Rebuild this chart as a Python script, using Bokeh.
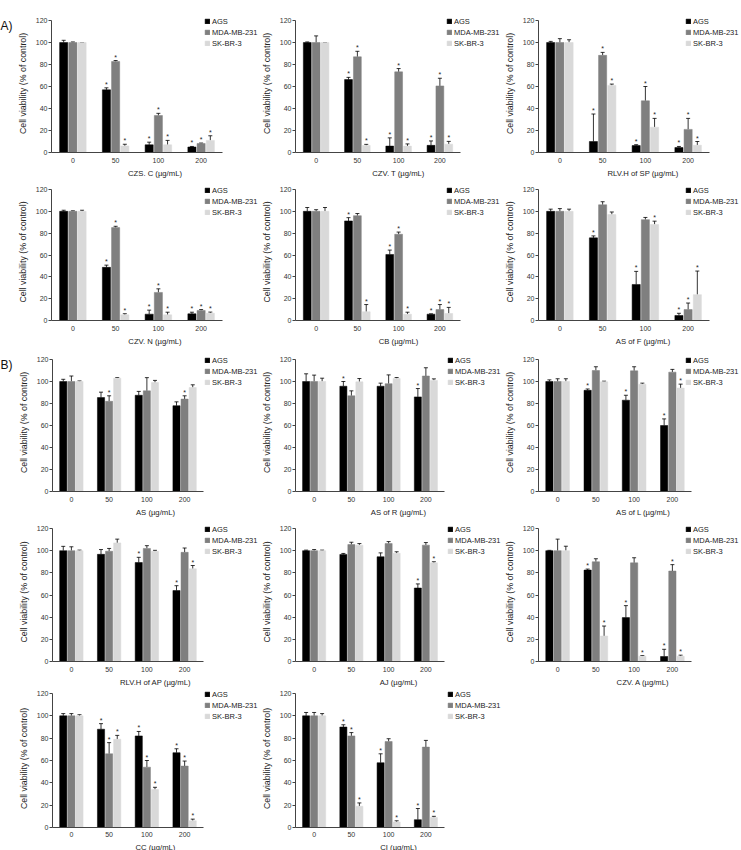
from bokeh.plotting import figure
from bokeh.layouts import column, row
from bokeh.models import (ColumnDataSource, Range1d, FixedTicker,
                          Whisker, TeeHead, Legend, LegendItem)
from bokeh.core.properties import value
from bokeh.embed import file_html
from bokeh.resources import INLINE

doses = ["0", "50", "100", "200"]
cell_lines = ["AGS", "MDA-MB-231", "SK-BR-3"]
bar_colors = ["#000000", "#7f7f7f", "#d9d9d9"]
y_ticks = [0, 20, 40, 60, 80, 100, 120]

# Mean viability (% of control), SD and significance ("*") per cell line:
# rows are AGS, MDA-MB-231, SK-BR-3; columns follow `doses`.
czs_c_label = "CZS. C (µg/mL)"
czs_c_mean = [[100, 57, 7, 5], [100, 82.7, 33.6, 8.2], [100, 6, 7, 11]]
czs_c_sd = [[2, 1.8, 2.4, 0.5], [0.5, 0.9, 2, 0.4], [0, 1.5, 4, 4.2]]
czs_c_sig = ["-***", "-***", "-***"]

czv_t_label = "CZV. T (µg/mL)"
czv_t_mean = [[100, 66.3, 5.8, 6.5], [100, 87, 73.3, 60.5], [100, 6.4, 5.8, 7.6]]
czv_t_sd = [[0.5, 2, 7.5, 4], [6, 5, 3, 7], [0, 1, 2, 2.5]]
czv_t_sig = ["-***", "-***", "-***"]

rlvh_sp_label = "RLV.H of SP (µg/mL)"
rlvh_sp_mean = [[100, 10, 6.3, 4.5], [100, 88.3, 47, 21], [100, 61, 23, 6.6]]
rlvh_sp_sd = [[1, 25, 0.8, 1], [3.5, 2.7, 13, 10], [2.5, 1.2, 8, 3.4]]
rlvh_sp_sig = ["-***", "-***", "-***"]

czv_n_label = "CZV. N (µg/mL)"
czv_n_mean = [[100, 48.7, 5.8, 6.1], [100, 85.1, 25.7, 9.2], [100, 5.2, 5.2, 6.7]]
czv_n_sd = [[1, 2, 3.7, 1.5], [0.5, 1.2, 3.3, 0.8], [1, 1, 2.4, 1]]
czv_n_sig = ["-***", "-***", "-***"]

cb_label = "CB (µg/mL)"
cb_mean = [[100, 91.2, 60.5, 5.8], [100, 96, 79, 10], [100, 8, 5.8, 6.4]]
cb_sd = [[3.5, 3, 4, 0.3], [1.5, 2, 2, 4.6], [3.5, 6.6, 1.8, 5.6]]
cb_sig = ["-***", "--**", "-***"]

as_f_label = "AS of F (µg/mL)"
as_f_mean = [[100, 75.7, 33, 4.6], [100, 106, 92.4, 10], [100, 97, 88, 23.7]]
as_f_sd = [[2, 1.8, 12, 2], [2.5, 2.8, 2, 6], [2, 2.4, 3, 21.6]]
as_f_sig = ["-***", "---*", "--**"]

as_label = "AS (µg/mL)"
as_mean = [[100, 85.4, 87.5, 78], [100, 82, 91.5, 84], [100, 103, 99, 94.5]]
as_sd = [[2, 4.9, 3.5, 3.5], [5, 5, 12, 3], [0.5, 0.6, 2, 2.5]]
as_sig = ["----", "-*-*", "----"]

as_r_label = "AS of R (µg/mL)"
as_r_mean = [[100, 95.7, 95.7, 86], [100, 87, 98, 105], [100, 99.7, 102.7, 101]]
as_r_sd = [[7, 4.3, 2.8, 7.6], [5.8, 4.5, 8, 7.5], [3, 3, 0.9, 1.4]]
as_r_sig = ["-*-*", "----", "----"]

as_l_label = "AS of L (µg/mL)"
as_l_mean = [[100, 92, 83, 60], [100, 110, 109.7, 108.5], [100, 99.7, 97.5, 94]]
as_l_sd = [[1.5, 1.2, 4.5, 6], [2.5, 3.4, 3.7, 2.5], [2.5, 0.6, 1, 3.6]]
as_l_sig = ["-***", "----", "---*"]

rlvh_ap_label = "RLV.H of AP (µg/mL)"
rlvh_ap_mean = [[100, 96.7, 89.3, 64], [100, 99.5, 102, 98.5], [100, 107, 99.4, 83.6]]
rlvh_ap_sd = [[3.9, 4.3, 4.7, 4.4], [3.5, 2.5, 2.5, 3.9], [0.5, 3.4, 0.9, 3]]
rlvh_ap_sig = ["--**", "----", "---*"]

aj_label = "AJ (µg/mL)"
aj_mean = [[100, 96.6, 94.5, 66.3], [100, 105.5, 106.4, 105], [100, 105, 97.6, 89]]
aj_sd = [[0.5, 0.9, 3.5, 3.7], [1, 2.1, 1.8, 2.3], [0.5, 1.4, 1.4, 1]]
aj_sig = ["---*", "----", "---*"]

czv_a_label = "CZV. A (µg/mL)"
czv_a_mean = [[100, 82.5, 39.6, 4.5], [100, 90, 89, 81.6], [100, 23, 4.8, 4.8]]
czv_a_sd = [[0.3, 0.9, 10.8, 6.5], [10.4, 2.7, 4.6, 5.8], [4, 9, 0.6, 0.9]]
czv_a_sig = ["-***", "---*", "-***"]

cc_label = "CC (µg/mL)"
cc_mean = [[100, 88, 82, 67], [100, 66, 54, 55], [100, 79, 34, 6]]
cc_sd = [[2, 5, 4, 3.5], [2, 10, 6, 4.5], [1, 3.5, 2, 1.5]]
cc_sig = ["-***", "-***", "-***"]

ci_label = "CI (µg/mL)"
ci_mean = [[100, 90, 58, 7], [100, 82, 77, 72], [100, 19, 5, 9]]
ci_sd = [[3, 2, 8, 10], [3, 3, 2.5, 6], [2, 3, 1, 1]]
ci_sig = ["-***", "-*--", "-***"]

FONT = "Liberation Sans"
OFFSETS = [-0.215, 0.0, 0.215]
BAR_W = 0.19
LEG_H = 31

# column geometry: (figure width, left border, width of the dose-group area)
COLS_A = [(258, 51, 171), (241, 35, 165), (242, 33, 171)]
COLS_B = [(258, 52, 151), (241, 35, 149), (242, 33, 153)]
# row geometry: (space above the 120 tick, plot height 0..120, bottom border)
ROWS = [(20, 132, 30), (7, 131, 28), (11, 132, 27), (9, 133, 28), (4, 134, 24)]
LEG_X_A = [153, 151, 147]
LEG_X_B = [152, 152, 147]


def panel(xlabel, means, sds, sigs, colgeom, rowgeom, leg_x, tag=None):
    fig_w, left, cat_w = colgeom
    top, fh, bottom = rowgeom
    n = len(doses)
    centers = [k + 1 for k in range(n)]
    frame_w = fig_w - left
    group_px = cat_w / n
    x_end = 0.5 + frame_w / group_px
    extra = min(6, top)
    y_end = 120 * (fh + extra) / fh

    p = figure(x_range=Range1d(0.5, x_end), y_range=Range1d(0, y_end),
               frame_width=frame_w, frame_height=fh + extra,
               min_border_left=left, min_border_right=0,
               min_border_top=top - extra, min_border_bottom=bottom,
               output_backend="svg", toolbar_location=None,
               background_fill_color="white", border_fill_color="white")
    p.outline_line_color = None
    p.grid.visible = False

    items = []
    for i, name in enumerate(cell_lines):
        m = means[i]
        sd = sds[i]
        src = ColumnDataSource(dict(
            x=[c + OFFSETS[i] for c in centers], m=m,
            up=[a + b for a, b in zip(m, sd)],
            s=["*" if c == "*" else "" for c in sigs[i]],
        ))
        r = p.vbar(x="x", top="m", width=BAR_W, source=src,
                   fill_color=bar_colors[i], line_color=bar_colors[i], line_width=0.5)
        p.add_layout(Whisker(base="x", upper="up", lower="m", source=src,
                             dimension="height", line_color="black", line_width=0.8,
                             upper_head=TeeHead(size=4, line_color="black", line_width=0.8),
                             lower_head=None))
        p.text(x="x", y="up", text="s", source=src, text_align="center",
               text_baseline="bottom", text_font_size="7px",
               text_font=value(FONT), text_color="#222222")
        items.append(LegendItem(label=name, renderers=[r]))

    leg = Legend(items=items, location=(leg_x, fh + 3.5 - LEG_H),
                 border_line_color=None, background_fill_alpha=0,
                 padding=0, margin=0, spacing=2,
                 glyph_width=6, glyph_height=6, label_standoff=2,
                 label_height=8, label_text_font_size="7.5px",
                 label_text_font=FONT, label_text_color="#222222")
    p.add_layout(leg)

    ya = p.yaxis[0]
    ya.ticker = FixedTicker(ticks=y_ticks)
    ya.bounds = (0, 120)
    ya.axis_label = "Cell viability (% of control)"
    ya.axis_label_text_font_size = "8.8px"
    ya.axis_label_standoff = 5
    ya.major_label_standoff = 1
    ya.major_tick_out = 3
    ya.major_tick_in = 0
    ya.minor_tick_line_color = None

    xa = p.xaxis[0]
    xa.ticker = FixedTicker(ticks=centers)
    xa.major_label_overrides = {c: d for c, d in zip(centers, doses)}
    xa.bounds = (0.5, n + 0.5)
    xa.axis_label = xlabel
    xa.axis_label_text_font_size = "7.7px"
    xa.axis_label_standoff = 3
    xa.major_label_standoff = 5 if bottom >= 26 else 4
    xa.major_tick_out = 0
    xa.major_tick_in = 0
    xa.minor_tick_line_color = None

    for ax in (xa, ya):
        ax.axis_line_color = "#444444"
        ax.axis_line_width = 1
        ax.major_tick_line_color = "#444444"
        ax.major_label_text_font = FONT
        ax.major_label_text_font_size = "7px"
        ax.major_label_text_color = "#333333"
        ax.axis_label_text_font = FONT
        ax.axis_label_text_font_style = "normal"
        ax.axis_label_text_color = "#222222"

    if tag is not None:
        p.title.text = tag
        p.title.align = "left"
        p.title.offset = -left
        p.title.vertical_align = "bottom"
        p.title.standoff = -36
        p.title.text_font = FONT
        p.title.text_font_size = "12px"
        p.title.text_font_style = "normal"
        p.title.text_color = "#111111"
    return p


a1 = panel(czs_c_label, czs_c_mean, czs_c_sd, czs_c_sig, COLS_A[0], ROWS[0], LEG_X_A[0], "A)")
a2 = panel(czv_t_label, czv_t_mean, czv_t_sd, czv_t_sig, COLS_A[1], ROWS[0], LEG_X_A[1])
a3 = panel(rlvh_sp_label, rlvh_sp_mean, rlvh_sp_sd, rlvh_sp_sig, COLS_A[2], ROWS[0], LEG_X_A[2])
a4 = panel(czv_n_label, czv_n_mean, czv_n_sd, czv_n_sig, COLS_A[0], ROWS[1], LEG_X_A[0])
a5 = panel(cb_label, cb_mean, cb_sd, cb_sig, COLS_A[1], ROWS[1], LEG_X_A[1])
a6 = panel(as_f_label, as_f_mean, as_f_sd, as_f_sig, COLS_A[2], ROWS[1], LEG_X_A[2])

b1 = panel(as_label, as_mean, as_sd, as_sig, COLS_B[0], ROWS[2], LEG_X_B[0], "B)")
b2 = panel(as_r_label, as_r_mean, as_r_sd, as_r_sig, COLS_B[1], ROWS[2], LEG_X_B[1])
b3 = panel(as_l_label, as_l_mean, as_l_sd, as_l_sig, COLS_B[2], ROWS[2], LEG_X_B[2])
b4 = panel(rlvh_ap_label, rlvh_ap_mean, rlvh_ap_sd, rlvh_ap_sig, COLS_B[0], ROWS[3], LEG_X_B[0])
b5 = panel(aj_label, aj_mean, aj_sd, aj_sig, COLS_B[1], ROWS[3], LEG_X_B[1])
b6 = panel(czv_a_label, czv_a_mean, czv_a_sd, czv_a_sig, COLS_B[2], ROWS[3], LEG_X_B[2])
b7 = panel(cc_label, cc_mean, cc_sd, cc_sig, COLS_B[0], ROWS[4], LEG_X_B[0])
b8 = panel(ci_label, ci_mean, ci_sd, ci_sig, COLS_B[1], ROWS[4], LEG_X_B[1])

layout = column(row(a1, a2, a3, spacing=0),
                row(a4, a5, a6, spacing=0),
                row(b1, b2, b3, spacing=0),
                row(b4, b5, b6, spacing=0),
                row(b7, b8, spacing=0),
                spacing=0)

open("out.html", "w").write(file_html(layout, INLINE))
